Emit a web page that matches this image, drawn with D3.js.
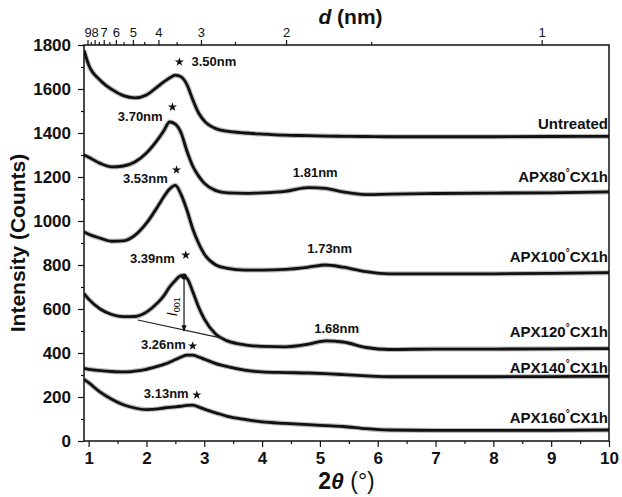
<!DOCTYPE html>
<html>
<head>
<meta charset="utf-8">
<script src="https://cdn.jsdelivr.net/npm/d3@7"></script>
<style>
body { margin: 0; background: #fff; }
text { font-family: "Liberation Sans", Arial, sans-serif; }
</style>
</head>
<body>
<svg id="chart"></svg>
<script>
// 2theta sample points (deg) shared by all patterns
const twoTheta = [0.92, 1.0, 1.2, 1.4, 1.6, 1.8, 2.0, 2.2, 2.3, 2.4, 2.5, 2.6, 2.7, 2.8, 2.9, 3.0, 3.2, 3.4, 3.7, 4.0, 4.4, 4.8, 5.1, 5.4, 5.8, 6.2, 7, 8, 9, 10];

const untreated = [1775, 1710, 1640, 1598, 1570, 1560, 1573, 1612, 1632, 1650, 1663, 1655, 1620, 1552, 1492, 1455, 1420, 1408, 1400, 1395, 1390, 1388, 1386, 1385, 1384, 1383, 1383, 1383, 1384, 1385];
const apx80 = [1300, 1290, 1262, 1246, 1250, 1268, 1309, 1372, 1410, 1450, 1440, 1400, 1318, 1250, 1205, 1172, 1138, 1128, 1126, 1128, 1135, 1152, 1148, 1132, 1120, 1122, 1125, 1127, 1128, 1132];
const apx100 = [950, 940, 922, 908, 910, 935, 990, 1068, 1110, 1145, 1162, 1120, 1050, 965, 900, 850, 800, 785, 777, 777, 780, 790, 800, 790, 770, 760, 760, 760, 762, 765];
const apx120 = [670, 645, 600, 575, 565, 566, 586, 630, 660, 700, 730, 752, 740, 680, 610, 555, 485, 455, 437, 430, 428, 440, 455, 450, 425, 416, 418, 418, 419, 420];
const apx140 = [330, 326, 320, 316, 314, 318, 326, 340, 348, 358, 370, 382, 390, 390, 382, 372, 352, 338, 322, 314, 311, 309, 306, 302, 296, 292, 292, 292, 293, 294];
const apx160 = [280, 265, 222, 190, 165, 150, 143, 146, 150, 153, 155, 158, 162, 163, 155, 145, 128, 112, 98, 87, 80, 74, 70, 66, 56, 50, 48, 48, 48, 50];

const seriesNames = ["Untreated", "APX80", "APX100", "APX120", "APX140", "APX160"];
const seriesValues = [untreated, apx80, apx100, apx120, apx140, apx160];
// where each sample name sits (intensity level, right side)
const nameLevels = [1418, 1177, 814, 473, 309, 82];

// d-spacing peak labels: [text, star 2theta, star I, text 2theta, text I, anchor]
const peakNotes = [
    ["3.50nm", 2.57, 1723, 2.78, 1705, "start"],
    ["3.70nm", 2.45, 1518, 2.28, 1455, "end"],
    ["1.81nm", null, null, 4.92, 1198, "middle"],
    ["3.53nm", 2.52, 1232, 2.37, 1173, "end"],
    ["1.73nm", null, null, 5.17, 855, "middle"],
    ["3.39nm", 2.68, 845, 2.49, 809, "end"],
    ["1.68nm", null, null, 5.29, 491, "middle"],
    ["3.26nm", 2.80, 432, 2.68, 418, "end"],
    ["3.13nm", 2.87, 209, 2.73, 195, "end"]
];

// I001 construction on APX120: baseline and arrow
const baseLine001 = [[1.85, 550], [3.3, 468]];
const arrow001 = [[2.65, 748], [2.65, 500]];

const yTicks = [0, 200, 400, 600, 800, 1000, 1200, 1400, 1600, 1800];
const yMinor = [100, 300, 500, 700, 900, 1100, 1300, 1500, 1700];
const xTicks = [1, 2, 3, 4, 5, 6, 7, 8, 9, 10];
const xMinor = [1.5, 2.5, 3.5, 4.5, 5.5, 6.5, 7.5, 8.5, 9.5];
const dLabels = [9, 8, 7, 6, 5, 4, 3, 2, 1];
const dMinor = [8.5, 7.5, 6.5, 5.5, 4.5, 3.5, 2.5, 1.5];
const lambda = 0.15406; // Cu Ka, nm

const width = 622, height = 497;
const margin = { top: 45, right: 13, bottom: 56, left: 84 };
const w = width - margin.left - margin.right;
const h = height - margin.top - margin.bottom;

const svg = d3.select("#chart").attr("width", width).attr("height", height);
const g = svg.append("g").attr("transform", `translate(${margin.left},${margin.top})`);

const x = d3.scaleLinear().domain([0.92, 10]).range([0, w]);
const y = d3.scaleLinear().domain([0, 1800]).range([h, 0]);
const dToTheta = d => 2 * Math.asin(lambda / (2 * d)) * 180 / Math.PI;

const defs = svg.append("defs");
defs.append("clipPath").attr("id", "plot")
    .append("rect").attr("width", w).attr("height", h);
defs.append("marker")
    .attr("id", "arrowhead").attr("viewBox", "0 0 10 10")
    .attr("refX", 9).attr("refY", 5)
    .attr("markerWidth", 5).attr("markerHeight", 6).attr("orient", "auto")
    .append("path").attr("d", "M0,1L10,5L0,9z").attr("fill", "#111");

// curves
const line = d3.line()
    .x((d, i) => x(twoTheta[i]))
    .y(d => y(d))
    .curve(d3.curveMonotoneX);

const curves = g.append("g").attr("clip-path", "url(#plot)");
seriesValues.forEach(vals => {
    curves.append("path").attr("d", line(vals))
        .attr("fill", "none").attr("stroke", "#777").attr("stroke-opacity", 0.5)
        .attr("stroke-width", 5);
    curves.append("path").attr("d", line(vals))
        .attr("fill", "none").attr("stroke", "#111").attr("stroke-width", 2.8);
});

// I001 baseline + arrow
const simple = d3.line().x(d => x(d[0])).y(d => y(d[1]));
g.append("path").attr("d", simple(baseLine001))
    .attr("stroke", "#222").attr("stroke-width", 1.2).attr("fill", "none");
g.append("path").attr("d", simple(arrow001))
    .attr("stroke", "#222").attr("stroke-width", 1.3).attr("fill", "none")
    .attr("marker-end", "url(#arrowhead)");
g.append("circle").attr("cx", x(arrow001[0][0])).attr("cy", y(arrow001[0][1]))
    .attr("r", 3).attr("fill", "#111");
const i001 = g.append("text")
    .attr("transform", `translate(${x(arrow001[0][0]) - 7},${y(610)}) rotate(-90)`)
    .attr("text-anchor", "middle").attr("font-size", 14);
i001.append("tspan").attr("font-style", "italic").text("I");
i001.append("tspan").attr("font-size", 9).attr("dy", 3).text("001");

// peak notes
const star = d3.symbol().type(d3.symbolStar).size(26);
peakNotes.forEach(p => {
    if (p[1] !== null) {
        g.append("path").attr("d", star)
            .attr("transform", `translate(${x(p[1])},${y(p[2])})`)
            .attr("fill", "#111");
    }
    g.append("text").attr("x", x(p[3])).attr("y", y(p[4]))
        .attr("text-anchor", p[5]).attr("font-size", 13).attr("font-weight", "bold")
        .attr("fill", "#111").text(p[0]);
});

// sample names
seriesNames.forEach((name, i) => {
    const t = g.append("text").attr("x", x(10) - 1).attr("y", y(nameLevels[i]))
        .attr("text-anchor", "end").attr("font-size", 15).attr("font-weight", "bold")
        .attr("fill", "#111");
    if (name === "Untreated") {
        t.text(name);
    } else {
        t.append("tspan").text(name);
        t.append("tspan").attr("font-size", 10).attr("dy", -6).text("°");
        t.append("tspan").attr("dy", 6).text("CX1h");
    }
});

// axes
const styleAxis = sel => {
    sel.select(".domain").remove();
    sel.selectAll(".tick line").attr("stroke", "#111").attr("stroke-width", 1.2);
};

const xAxisG = g.append("g").attr("transform", `translate(0,${h})`)
    .call(d3.axisBottom(x).tickValues(xTicks).tickSize(6).tickPadding(5).tickFormat(d3.format("d")));
styleAxis(xAxisG);
xAxisG.selectAll("text").attr("font-size", 17).attr("font-weight", "bold").attr("fill", "#111");
g.append("g").attr("transform", `translate(0,${h})`)
    .call(d3.axisBottom(x).tickValues(xMinor).tickSize(3).tickFormat(""))
    .call(styleAxis);

const yAxisG = g.append("g")
    .call(d3.axisLeft(y).tickValues(yTicks).tickSize(6).tickPadding(7).tickFormat(d3.format("d")));
styleAxis(yAxisG);
yAxisG.selectAll("text").attr("font-size", 17).attr("font-weight", "bold").attr("fill", "#111");
g.append("g").call(d3.axisLeft(y).tickValues(yMinor).tickSize(3).tickFormat(""))
    .call(styleAxis);

const dAxisG = g.append("g")
    .call(d3.axisTop(x).tickValues(dLabels.map(dToTheta)).tickSize(5).tickPadding(3)
        .tickFormat((t, i) => dLabels[i]));
styleAxis(dAxisG);
dAxisG.selectAll("text").attr("font-size", 13).attr("fill", "#111");
g.append("g").call(d3.axisTop(x).tickValues(dMinor.map(dToTheta)).tickSize(3).tickFormat(""))
    .call(styleAxis);

// frame
g.append("rect").attr("width", w).attr("height", h)
    .attr("fill", "none").attr("stroke", "#111").attr("stroke-width", 1.5);

// titles
const xTitle = svg.append("text").attr("x", margin.left + w / 2).attr("y", 489)
    .attr("text-anchor", "middle").attr("font-size", 23).attr("font-weight", "bold").attr("fill", "#111");
xTitle.append("tspan").text("2");
xTitle.append("tspan").attr("font-style", "italic").text("θ");
xTitle.append("tspan").attr("font-weight", "normal").text(" (°)");

const dTitle = svg.append("text").attr("x", margin.left + w / 2 + 4).attr("y", 24)
    .attr("text-anchor", "middle").attr("font-size", 21).attr("font-weight", "bold").attr("fill", "#111");
dTitle.append("tspan").attr("font-style", "italic").text("d");
dTitle.append("tspan").text(" (nm)");

svg.append("text").attr("transform", `translate(25,${margin.top + h / 2}) rotate(-90)`)
    .attr("text-anchor", "middle").attr("font-size", 21).attr("font-weight", "bold")
    .attr("fill", "#111").text("Intensity (Counts)");
</script>
</body>
</html>
